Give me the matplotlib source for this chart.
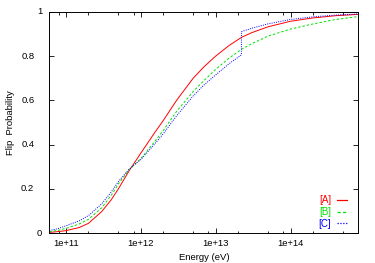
import numpy as np
import matplotlib
matplotlib.use('Agg')
import matplotlib.pyplot as plt
from matplotlib.ticker import LogLocator, FuncFormatter, NullFormatter, FixedLocator
from matplotlib.transforms import offset_copy

plt.rcParams['font.family'] = ['Liberation Sans', 'DejaVu Sans']
plt.rcParams['font.size'] = 6.8

energy = [6e10, 8e10, 1e11, 1.5e11, 2e11, 3e11, 4e11, 5e11, 7e11, 1e12, 1.5e12,
          2e12, 3e12, 5e12, 7e12, 1e13, 1.5e13, 2.2e13, 3e13, 5e13, 1e14, 2e14,
          4e14, 8e14]
prob_a = [0.004, 0.008, 0.012, 0.026, 0.045, 0.098, 0.15, 0.20, 0.283, 0.362, 0.45,
          0.51, 0.60, 0.70, 0.752, 0.80, 0.847, 0.884, 0.905, 0.932, 0.957, 0.972,
          0.982, 0.988]
prob_b = [0.007, 0.014, 0.022, 0.042, 0.063, 0.115, 0.17, 0.222, 0.288, 0.337, 0.41,
          0.465, 0.55, 0.64, 0.69, 0.74, 0.79, 0.83, 0.855, 0.89, 0.922, 0.945,
          0.965, 0.978]
# curve C has a step at 2.2e13 eV
energy_c = [6e10, 8e10, 1e11, 1.5e11, 2e11, 3e11, 4e11, 5e11, 7e11, 1e12, 1.5e12,
            2e12, 3e12, 5e12, 7e12, 1e13, 1.5e13, 2.2e13, 2.2e13, 3e13, 5e13, 1e14,
            2e14, 4e14, 8e14]
prob_c = [0.012, 0.022, 0.034, 0.056, 0.08, 0.133, 0.185, 0.233, 0.29, 0.333, 0.40,
          0.45, 0.53, 0.62, 0.67, 0.715, 0.765, 0.805, 0.91, 0.925, 0.945, 0.965,
          0.977, 0.985, 0.99]

labels = ['[A]', '[B]', '[C]']
colors = ['#ff0000', '#00e000', '#0000ff']
yticks = [0, 0.2, 0.4, 0.6, 0.8, 1]
yticklabels = ['0', '0.2', '0.4', '0.6', '0.8', '1']

fig = plt.figure(figsize=(3.75, 2.63), dpi=100)
ax = fig.add_axes([0.1315, 0.1129, 0.824, 0.8426])

ax.plot(energy, prob_a, color=colors[0], lw=0.7, ls='-', label=labels[0])
ax.plot(energy, prob_b, color=colors[1], lw=0.7, ls=(0, (2.5, 2)), label=labels[1])
ax.plot(energy_c, prob_c, color=colors[2], lw=0.7, ls=(0, (1, 1.3)), label=labels[2])

ax.set_xscale('log')
ax.set_xlim(6e10, 8e14)
ax.set_ylim(0, 1)

ax.xaxis.set_major_locator(LogLocator(base=10, numticks=10))
ax.xaxis.set_minor_locator(LogLocator(base=10, subs=(2, 5, 8), numticks=10))
ax.xaxis.set_major_formatter(FuncFormatter(lambda v, _: '1e+%d' % round(np.log10(v))))
ax.xaxis.set_minor_formatter(NullFormatter())
ax.yaxis.set_major_locator(FixedLocator(yticks))
ax.set_yticklabels([])

ax.tick_params(which='both', direction='in', top=True, right=True, width=0.6, colors='black')
ax.tick_params(which='major', length=3.6, pad=4)
ax.tick_params(which='minor', length=1.8)
for s in ax.spines.values():
    s.set_linewidth(0.7)

# y tick labels, placed the way the original places them
for v, lab in zip(yticks, yticklabels):
    dx = 7 if len(lab) == 1 else 15
    tr = offset_copy(ax.get_yaxis_transform(), fig=fig, x=-dx, y=0, units='dots')
    ax.text(0, v, lab, transform=tr, ha='right', va='center')

fig.text(0.027, 0.535, 'Flip  Probability', rotation=90, ha='center', va='center')
fig.text(0.544, 0.02, 'Energy (eV)', ha='center', va='center')

leg = ax.legend(loc='lower right', bbox_to_anchor=(0.9625, 0.02), frameon=False,
                markerfirst=False, labelcolor='linecolor', handlelength=1.0,
                handletextpad=0.6, labelspacing=0.2, borderpad=0, borderaxespad=0,
                fontsize=7)
for h, c in zip(leg.get_lines(), colors):
    h.set_color(c)
    h.set_linewidth(0.9)

fig.savefig('out.png', dpi=100)
